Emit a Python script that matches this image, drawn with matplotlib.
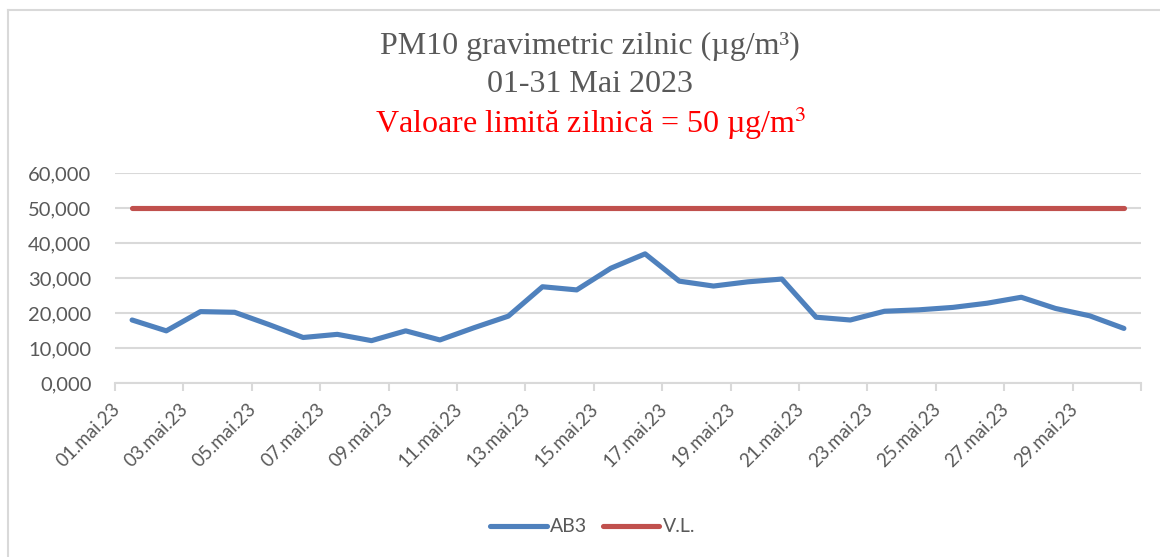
import matplotlib.pyplot as plt
from matplotlib.lines import Line2D
from matplotlib.transforms import ScaledTranslation

# PM10 zilnic, mai 2023
zile = ['%02d.mai.23' % d for d in range(1, 31)]
ab3 = [18.0, 14.9, 20.4, 20.2, 16.7, 13.0, 13.9, 12.1, 14.9, 12.3,
       15.8, 19.1, 27.5, 26.6, 32.8, 36.9, 29.1, 27.7, 28.9, 29.7,
       18.8, 18.0, 20.5, 20.9, 21.6, 22.8, 24.5, 21.3, 19.2, 15.6]
vl = [50.0] * len(zile)
y_ticks = [0, 10, 20, 30, 40, 50, 60]

W, H = 1160, 557
fig = plt.figure(figsize=(W / 100, H / 100), dpi=100)
ax = fig.add_axes([115 / W, 1 - 383 / H, (1141 - 115) / W, (383 - 173) / H])

grey = '#595959'
grid_c = '#d9d9d9'
x = list(range(len(zile)))

ax.plot(x, ab3, color='#4F81BD', lw=3.7, solid_capstyle='round', solid_joinstyle='round', label='AB3', zorder=3)
ax.plot(x, vl, color='#C0504D', lw=3.7, solid_capstyle='round', label='V.L.', zorder=3)

ax.set_xlim(-0.5, len(zile) - 0.5)
ax.set_ylim(0, 60)
ax.set_yticks(y_ticks)
ax.set_yticklabels(['%d,000' % v for v in y_ticks])
ax.yaxis.grid(True, color=grid_c, lw=1.5)
ax.set_axisbelow(True)

for s in ['top', 'right', 'left']:
    ax.spines[s].set_visible(False)
ax.spines['bottom'].set_color(grid_c)
ax.spines['bottom'].set_linewidth(1.5)

ax.tick_params(axis='y', length=0, pad=17, labelsize=14.5, labelcolor=grey)
ax.set_xticks(x[::2])
ax.set_xticklabels(zile[::2])
ax.set_xticks([i - 0.5 for i in range(0, len(zile) + 1, 2)], minor=True)
ax.tick_params(axis='x', which='major', length=0, pad=17, labelsize=13.5, labelcolor=grey)
ax.tick_params(axis='x', which='minor', length=6, width=1.5, color=grid_c)
off = ScaledTranslation(-15 / 100, 0, fig.dpi_scale_trans)
for lbl in ax.get_xticklabels():
    lbl.set_rotation(45)
    lbl.set_ha('right')
    lbl.set_va('center')
    lbl.set_rotation_mode('anchor')
    lbl.set_transform(lbl.get_transform() + off)

for lbl in ax.get_xticklabels() + ax.get_yticklabels():
    lbl.set_fontfamily('Lato')

# titlu
plt.rcParams['mathtext.fontset'] = 'stix'
fig.text(590 / W, 1 - 46 / H, 'PM10 gravimetric zilnic (µg/m³)', ha='center', va='center',
         fontsize=23, color=grey, family='Liberation Serif')
fig.text(590 / W, 1 - 85 / H, '01-31 Mai 2023', ha='center', va='center',
         fontsize=23, color=grey, family='Liberation Serif')
fig.text(591 / W, 1 - 123 / H, 'Valoare limită zilnică = 50 µg/m$^3$', ha='center', va='center',
         fontsize=23, color='#FF0000', family='Liberation Serif')

leg = fig.legend(loc='center', bbox_to_anchor=(593 / W, 1 - 527 / H), ncol=2, frameon=False,
                 prop={'family': 'Lato', 'size': 14}, handlelength=2.9, handletextpad=0.2,
                 columnspacing=0.8)
for t in leg.get_texts():
    t.set_color(grey)

# chenar
fig.add_artist(Line2D([8 / W, 8 / W], [0, 1 - 10 / H], color=grid_c, lw=1.5))
fig.add_artist(Line2D([8 / W, 1], [1 - 10 / H, 1 - 10 / H], color=grid_c, lw=1.5))

plt.savefig('out.png', dpi=100)
plt.close()
